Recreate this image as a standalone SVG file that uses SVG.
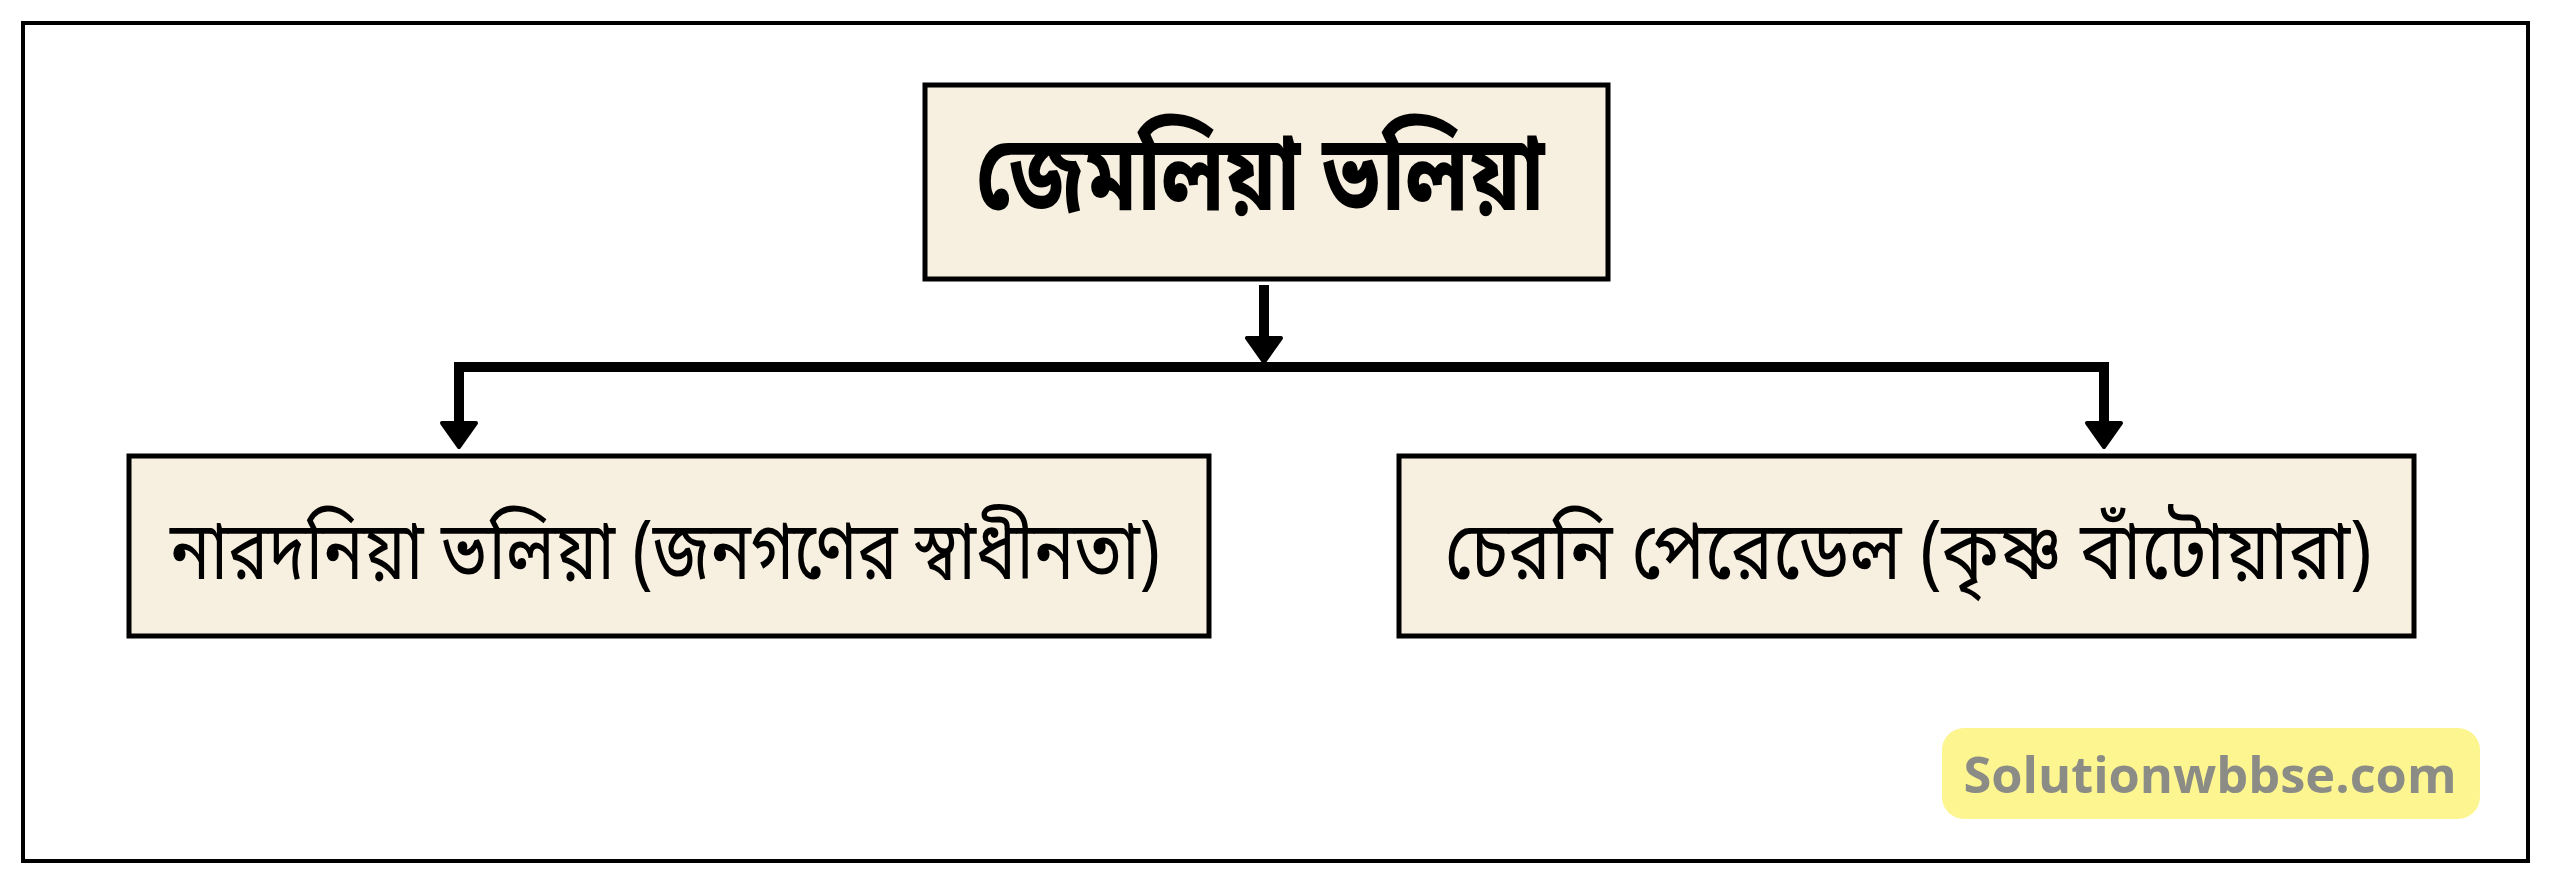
<svg xmlns="http://www.w3.org/2000/svg" width="2560" height="889" viewBox="0 0 2560 889">
<defs>
<path id="head" d="M-17,0 L17,0 L0,24 Z"/>
<style>
.box{fill:#f7efdf;stroke:#000;stroke-width:5}
.bn{font-family:"Noto Sans Bengali","Noto Serif Bengali","Lohit Bengali","FreeSans","Noto Sans",sans-serif;fill:#000;text-anchor:middle}
.ln{fill:none;stroke:#000;stroke-width:10}
.hd{fill:#000;stroke:#000;stroke-width:4;stroke-linejoin:round}
</style>
</defs>
<rect x="0" y="0" width="2560" height="889" fill="#fff"/>
<rect id="frame" x="23" y="23" width="2505" height="838" fill="none" stroke="#000" stroke-width="4"/>
<g id="connectors">
<line class="ln" x1="1264" y1="285" x2="1264" y2="340"/>
<use href="#head" class="hd" x="1264" y="338"/>
<line class="ln" x1="454" y1="367" x2="2109" y2="367" stroke-width="11"/>
<line class="ln" x1="459" y1="362" x2="459" y2="424"/>
<use href="#head" class="hd" x="459" y="423"/>
<line class="ln" x1="2104" y1="362" x2="2104" y2="424"/>
<use href="#head" class="hd" x="2104" y="423"/>
</g>
<g id="node-top">
<rect class="box" x="925" y="85" width="683" height="194"/>
<text class="bn" x="1260" y="210" font-size="106" font-weight="bold" textLength="569" lengthAdjust="spacingAndGlyphs">জেমলিয়া ভলিয়া</text>
</g>
<g id="node-left">
<rect class="box" x="129" y="456" width="1080" height="180"/>
<text class="bn" x="665" y="579" font-size="82" textLength="990" lengthAdjust="spacingAndGlyphs">নারদনিয়া ভলিয়া (জনগণের স্বাধীনতা)</text>
</g>
<g id="node-right">
<rect class="box" x="1399" y="456" width="1015" height="180"/>
<text class="bn" x="1908" y="579" font-size="82" textLength="927" lengthAdjust="spacingAndGlyphs">চেরনি পেরেডেল (কৃষ্ণ বাঁটোয়ারা)</text>
</g>
<g id="watermark">
<rect x="1942" y="728" width="538" height="91" rx="22" fill="#fdf58f"/>
<text x="2210" y="793" font-family="'Open Sans','Noto Sans',sans-serif" font-weight="bold" font-size="50" fill="#8c8c86" text-anchor="middle" textLength="493" lengthAdjust="spacingAndGlyphs">Solutionwbbse.com</text>
</g>
</svg>
